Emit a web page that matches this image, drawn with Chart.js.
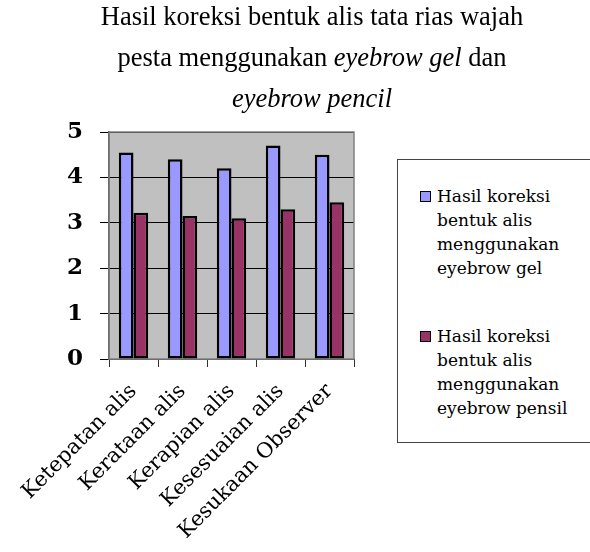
<!DOCTYPE html>
<html>
<head>
<meta charset="utf-8">
<script src="https://cdn.jsdelivr.net/npm/chart.js@4"></script>
<style>
  html, body { margin: 0; padding: 0; background: #fff; }
  #wrap { position: relative; width: 590px; height: 552px; overflow: hidden; }
  #chart { position: absolute; left: 0; top: 0; }
  #title {
    position: absolute; left: 22px; top: -4px; width: 580px;
    text-align: center; font-family: "Liberation Serif", serif;
    font-size: 26.5px; line-height: 41px; color: #000;
  }
  #legend {
    position: absolute; left: 397px; top: 159px; width: 210px; height: 284px;
    border: 1px solid #444; background: #fff; box-sizing: border-box;
    font-family: "DejaVu Serif", serif; font-size: 17px; line-height: 24px; color: #000;
  }
  .item { position: absolute; left: 22px; }
  .item .box {
    position: absolute; left: 0; top: 7px; width: 9px; height: 9px;
    border: 1.5px solid #000;
  }
  .item .txt { margin-left: 17px; }
</style>
</head>
<body>
<div id="wrap">
  <canvas id="chart" width="590" height="552"></canvas>
  <div id="title">Hasil koreksi bentuk alis tata rias wajah<br>pesta menggunakan <i>eyebrow gel</i> dan<br><i>eyebrow pencil</i></div>
  <div id="legend"></div>
</div>
<script>
const categories = ['Ketepatan alis', 'Kerataan alis', 'Kerapian alis', 'Kesesuaian alis', 'Kesukaan Observer'];
const gelValues = [4.55, 4.4, 4.2, 4.7, 4.5];
const pensilValues = [3.22, 3.15, 3.1, 3.3, 3.45];
const seriesLabels = [
    ['Hasil koreksi', 'bentuk alis', 'menggunakan', 'eyebrow gel'],
    ['Hasil koreksi', 'bentuk alis', 'menggunakan', 'eyebrow pensil']
];
const seriesColors = ['#9999FF', '#993366'];
const yTicks = [0, 1, 2, 3, 4, 5];

// Grey plot background + border like the old Excel chart
const plotArea = {
    id: 'plotArea',
    beforeDraw(chart) {
        const { ctx, chartArea: a } = chart;
        ctx.save();
        ctx.fillStyle = '#C0C0C0';
        ctx.fillRect(a.left, a.top, a.right - a.left, a.bottom - a.top);
        ctx.restore();
    },
    beforeDatasetsDraw(chart) {
        const { ctx, chartArea: a } = chart;
        ctx.save();
        ctx.strokeStyle = '#808080';
        ctx.lineWidth = 1.5;
        ctx.strokeRect(a.left, a.top, a.right - a.left, a.bottom - a.top);
        ctx.restore();
    }
};

const ctx = document.getElementById('chart').getContext('2d');
const chart = new Chart(ctx, {
    type: 'bar',
    data: {
        labels: categories,
        datasets: [
            { label: seriesLabels[0].join(' '), data: gelValues, backgroundColor: seriesColors[0] },
            { label: seriesLabels[1].join(' '), data: pensilValues, backgroundColor: seriesColors[1] }
        ]
    },
    options: {
        responsive: false,
        animation: false,
        layout: { padding: { top: 132, right: 236, left: 0, bottom: 0 } },
        datasets: {
            bar: {
                borderColor: '#000',
                borderWidth: 2.5,
                borderSkipped: false,
                barPercentage: 1,
                categoryPercentage: 0.6
            }
        },
        plugins: {
            legend: { display: false },
            title: { display: false },
            tooltip: { enabled: false }
        },
        scales: {
            x: {
                afterFit(scale) { scale.height = 193; },
                grid: { drawOnChartArea: false, tickLength: 8, color: '#333', offset: true },
                border: { color: '#333' },
                ticks: {
                    maxRotation: 45, minRotation: 45, padding: 12,
                    color: '#000',
                    font: { family: 'DejaVu Serif', size: 21 }
                }
            },
            y: {
                min: 0, max: 5,
                afterFit(scale) { scale.width = 109; },
                afterBuildTicks(scale) { scale.ticks = yTicks.map(v => ({ value: v })); },
                grid: { color: '#000', lineWidth: 1, tickLength: 9 },
                border: { color: '#333', width: 1.5 },
                ticks: {
                    padding: 17,
                    color: '#000',
                    font: { family: 'DejaVu Serif', size: 23, weight: 'bold' }
                }
            }
        }
    },
    plugins: [plotArea]
});

// HTML legend with wrapped labels, built from the dataset info
const legend = document.getElementById('legend');
const itemTops = [24, 164];
seriesLabels.forEach((lines, i) => {
    const item = document.createElement('div');
    item.className = 'item';
    item.style.top = itemTops[i] + 'px';
    item.innerHTML = `<span class="box" style="background:${seriesColors[i]}"></span><div class="txt">${lines.join('<br>')}</div>`;
    legend.appendChild(item);
});
</script>
</body>
</html>
